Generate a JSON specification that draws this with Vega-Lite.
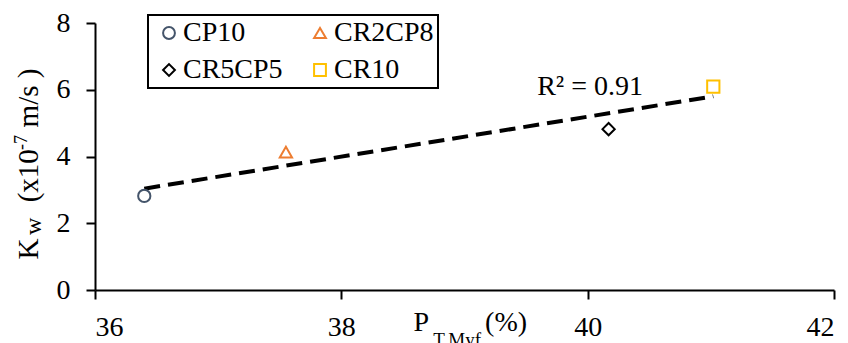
{
  "$schema": "https://vega.github.io/schema/vega-lite/v6.json",
  "width": 739,
  "height": 267,
  "autosize": {"type": "none"},
  "padding": {"left": 95, "top": 23, "right": 14, "bottom": 53},
  "background": "white",
  "config": {
    "view": {"stroke": null},
    "font": "Liberation Serif",
    "text": {"font": "Liberation Serif", "color": "black"},
    "legend": {"strokeWidth": 2},
    "axis": {
      "grid": false,
      "domainColor": "black",
      "domainWidth": 2,
      "tickColor": "black",
      "tickWidth": 2,
      "tickSize": 9,
      "labelFont": "Liberation Serif",
      "labelFontSize": 28,
      "labelColor": "black",
      "titleFont": "Liberation Serif",
      "titleFontWeight": "normal",
      "titleColor": "black"
    }
  },
  "datasets": {
    "points": [
      {"Mix": "CP10", "P": 36.40, "Kw": 2.82},
      {"Mix": "CR2CP8", "P": 37.55, "Kw": 4.13},
      {"Mix": "CR5CP5", "P": 40.17, "Kw": 4.82},
      {"Mix": "CR10", "P": 41.02, "Kw": 6.09}
    ]
  },
  "layer": [
    {
      "data": {"name": "points"},
      "transform": [{"regression": "Kw", "on": "P"}],
      "mark": {"type": "line", "color": "black", "strokeWidth": 4, "strokeDash": [16, 8]},
      "encoding": {
        "x": {
          "field": "P", "type": "quantitative",
          "scale": {"domain": [36, 42], "nice": false, "zero": false},
          "axis": {
            "values": [36, 38, 40, 42], "format": "d", "labelPadding": 14, "labelOverlap": false,
            "title": "P\u00a0\u00a0\u00a0\u00a0\u00a0\u00a0\u00a0\u00a0(%)",
            "titleFontSize": 28, "titleX": 318, "titleY": 40, "titleAlign": "left", "titleBaseline": "alphabetic"
          }
        },
        "y": {
          "field": "Kw", "type": "quantitative",
          "scale": {"domain": [0, 8], "nice": false},
          "axis": {
            "values": [0, 2, 4, 6, 8], "labelPadding": 16,
            "title": "K\u00a0\u00a0\u00a0\u00a0\u00a0(x10\u00a0\u00a0 m/s )",
            "titleFontSize": 29, "titleAngle": 270, "titleX": -58, "titleY": 236,
            "titleAlign": "left", "titleBaseline": "alphabetic"
          }
        }
      }
    },
    {
      "data": {"name": "points"},
      "mark": {"type": "point", "filled": false, "strokeWidth": 2, "size": 150, "opacity": 1},
      "encoding": {
        "x": {
          "field": "P", "type": "quantitative",
          "scale": {"domain": [36, 42], "nice": false, "zero": false},
          "axis": {
            "values": [36, 38, 40, 42], "format": "d", "labelPadding": 14, "labelOverlap": false,
            "title": "P\u00a0\u00a0\u00a0\u00a0\u00a0\u00a0\u00a0\u00a0(%)",
            "titleFontSize": 28, "titleX": 318, "titleY": 40, "titleAlign": "left", "titleBaseline": "alphabetic"
          }
        },
        "y": {
          "field": "Kw", "type": "quantitative",
          "scale": {"domain": [0, 8], "nice": false},
          "axis": {
            "values": [0, 2, 4, 6, 8], "labelPadding": 16,
            "title": "K\u00a0\u00a0\u00a0\u00a0\u00a0(x10\u00a0\u00a0 m/s )",
            "titleFontSize": 29, "titleAngle": 270, "titleX": -58, "titleY": 236,
            "titleAlign": "left", "titleBaseline": "alphabetic"
          }
        },
        "shape": {
          "field": "Mix", "type": "nominal",
          "scale": {"domain": ["CP10", "CR2CP8", "CR5CP5", "CR10"], "range": ["circle", "triangle-up", "diamond", "square"]},
          "legend": {
            "orient": "none", "legendX": 53, "legendY": -8, "columns": 2, "direction": "horizontal", "title": null,
            "labelFont": "Liberation Serif", "labelFontSize": 28, "labelColor": "black", "labelLimit": 300,
            "symbolSize": 140, "symbolStrokeWidth": 2, "symbolOffset": 3,
            "strokeColor": "black", "fillColor": "white", "padding": 4,
            "rowPadding": 9, "columnPadding": 20, "labelOffset": 0
          }
        },
        "color": {
          "field": "Mix", "type": "nominal",
          "scale": {"domain": ["CP10", "CR2CP8", "CR5CP5", "CR10"], "range": ["#44546A", "#ED7D31", "#000000", "#FFC000"]},
          "legend": {
            "orient": "none", "legendX": 53, "legendY": -8, "columns": 2, "direction": "horizontal", "title": null,
            "labelFont": "Liberation Serif", "labelFontSize": 28, "labelColor": "black", "labelLimit": 300,
            "symbolSize": 140, "symbolStrokeWidth": 2, "symbolOffset": 3,
            "strokeColor": "black", "fillColor": "white", "padding": 4,
            "rowPadding": 9, "columnPadding": 20, "labelOffset": 0
          }
        }
      }
    },
    {
      "data": {"values": [{"label": "R² = 0.91"}]},
      "mark": {"type": "text", "fontSize": 28, "align": "center", "baseline": "alphabetic", "color": "black"},
      "encoding": {
        "x": {"datum": 40.02, "type": "quantitative"},
        "y": {"datum": 5.84, "type": "quantitative"},
        "text": {"field": "label"}
      }
    },
    {
      "data": {"values": [{"label": "T,Myf"}]},
      "mark": {"type": "text", "fontSize": 19, "align": "left", "baseline": "alphabetic", "color": "black", "dy": 56},
      "encoding": {
        "x": {"datum": 38.747, "type": "quantitative"},
        "y": {"datum": 0, "type": "quantitative"},
        "text": {"field": "label"}
      }
    },
    {
      "data": {"values": [{"label": "w"}]},
      "mark": {"type": "text", "fontSize": 24, "align": "center", "baseline": "alphabetic", "angle": 270, "color": "black", "dy": -54},
      "encoding": {
        "x": {"datum": 36, "type": "quantitative"},
        "y": {"datum": 1.91, "type": "quantitative"},
        "text": {"field": "label"}
      }
    },
    {
      "data": {"values": [{"label": "-7"}]},
      "mark": {"type": "text", "fontSize": 18, "align": "center", "baseline": "alphabetic", "angle": 270, "color": "black", "dy": -68},
      "encoding": {
        "x": {"datum": 36, "type": "quantitative"},
        "y": {"datum": 4.42, "type": "quantitative"},
        "text": {"field": "label"}
      }
    }
  ]
}
